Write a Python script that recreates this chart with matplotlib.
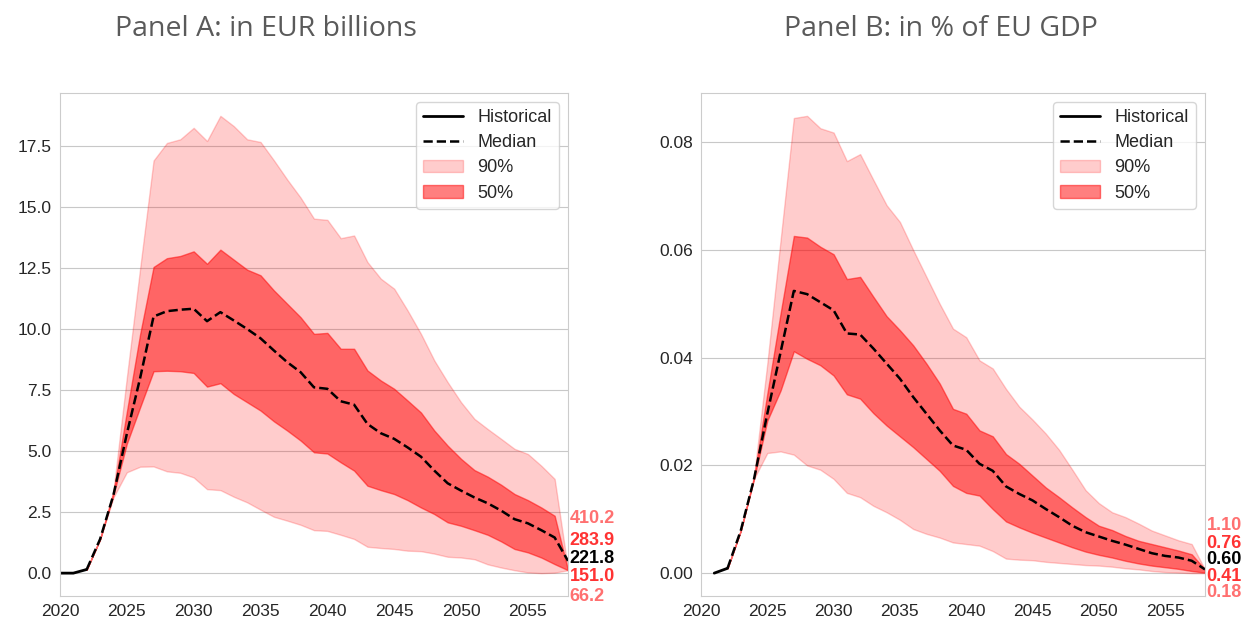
import numpy as np
import matplotlib
matplotlib.use("Agg")
import matplotlib.pyplot as plt
import seaborn as sns

# --- data ------------------------------------------------------------------
years_proj = list(range(2022, 2059))

hist_years_a = [2020, 2021, 2022]
hist_a = [0.0, 0.0, 0.15]

med_a = [0.15, 1.39, 3.2, 5.7, 8.0, 10.51, 10.73, 10.79, 10.83, 10.32, 10.69, 10.35,
         10.0, 9.62, 9.12, 8.64, 8.23, 7.61, 7.55, 7.04, 6.9, 6.11, 5.73, 5.5, 5.15,
         4.77, 4.2, 3.68, 3.38, 3.1, 2.86, 2.56, 2.21, 2.04, 1.76, 1.46, 0.5]
p95_a = [0.15, 1.39, 3.38, 8.0, 12.5, 16.9, 17.62, 17.77, 18.24, 17.70, 18.73, 18.31,
         17.77, 17.66, 16.91, 16.12, 15.38, 14.52, 14.47, 13.72, 13.83, 12.74, 12.06,
         11.65, 10.76, 9.8, 8.71, 7.82, 7.0, 6.32, 5.9, 5.5, 5.09, 4.88, 4.4, 3.86, 0.16]
p05_a = [0.15, 1.39, 3.1, 4.13, 4.36, 4.37, 4.17, 4.11, 3.92, 3.44, 3.40, 3.13, 2.90,
         2.60, 2.31, 2.15, 1.98, 1.76, 1.73, 1.57, 1.4, 1.08, 1.03, 0.99, 0.92, 0.9,
         0.8, 0.67, 0.64, 0.57, 0.36, 0.23, 0.12, 0.03, 0.0, 0.02, 0.12]
p75_a = [0.15, 1.39, 3.3, 6.6, 9.8, 12.54, 12.9, 12.99, 13.18, 12.67, 13.25, 12.84,
         12.43, 12.2, 11.58, 11.03, 10.48, 9.8, 9.84, 9.19, 9.19, 8.3, 7.89, 7.55,
         7.07, 6.58, 5.84, 5.22, 4.68, 4.22, 3.95, 3.62, 3.24, 2.99, 2.69, 2.35, 0.12]
p25_a = [0.15, 1.39, 3.2, 5.3, 6.8, 8.27, 8.29, 8.27, 8.2, 7.64, 7.78, 7.34, 7.0,
         6.66, 6.22, 5.84, 5.43, 4.95, 4.9, 4.54, 4.2, 3.58, 3.40, 3.24, 2.99, 2.69,
         2.42, 2.08, 1.94, 1.76, 1.57, 1.3, 0.99, 0.85, 0.64, 0.37, 0.12]
labels_a = ["410.2", "283.9", "221.8", "151.0", "66.2"]

hist_years_b = [2021, 2022]
hist_b = [0.0, 0.0009]

med_b = [0.0009, 0.0079, 0.0175, 0.0296, 0.041, 0.0524, 0.0518, 0.0503, 0.0488,
         0.0445, 0.0443, 0.0417, 0.0389, 0.0361, 0.0327, 0.0296, 0.0265, 0.0237,
         0.0229, 0.0203, 0.0190, 0.0161, 0.0147, 0.0135, 0.0119, 0.0104, 0.0088,
         0.0076, 0.0068, 0.006, 0.0053, 0.0045, 0.0037, 0.0032, 0.0029, 0.0023, 0.0007]
p95_b = [0.0009, 0.0079, 0.018, 0.0389, 0.0618, 0.0845, 0.0849, 0.0826, 0.0818,
         0.0765, 0.0778, 0.073, 0.0683, 0.0652, 0.060, 0.055, 0.050, 0.0454, 0.0438,
         0.0395, 0.038, 0.0342, 0.0309, 0.0285, 0.0259, 0.0229, 0.0192, 0.0154,
         0.0130, 0.0113, 0.0104, 0.0092, 0.0079, 0.0070, 0.0061, 0.0054, 0.0007]
p05_b = [0.0009, 0.0079, 0.0175, 0.0223, 0.0226, 0.022, 0.020, 0.0192, 0.0175,
         0.0149, 0.0141, 0.0125, 0.0113, 0.0099, 0.0082, 0.0073, 0.0066, 0.0057,
         0.0054, 0.0051, 0.0041, 0.0027, 0.0025, 0.0024, 0.0021, 0.0019, 0.0017,
         0.0015, 0.0014, 0.0012, 0.0009, 0.0007, 0.0004, 0.0002, 0.0001, 0.0, 0.0]
p75_b = [0.0009, 0.0079, 0.0178, 0.0333, 0.0482, 0.0626, 0.0623, 0.0606, 0.0592,
         0.0546, 0.055, 0.0513, 0.0477, 0.0451, 0.0423, 0.0389, 0.0352, 0.0305,
         0.0296, 0.0265, 0.0254, 0.0221, 0.0203, 0.0181, 0.0159, 0.0141, 0.0122,
         0.0104, 0.0088, 0.0080, 0.0069, 0.0060, 0.0054, 0.0048, 0.0042, 0.0035, 0.0007]
p25_b = [0.0009, 0.0079, 0.0175, 0.0283, 0.0339, 0.0412, 0.0398, 0.0386, 0.0367,
         0.0332, 0.0324, 0.0297, 0.0274, 0.0254, 0.0234, 0.0212, 0.019, 0.0162,
         0.0149, 0.0144, 0.0119, 0.0096, 0.0085, 0.0075, 0.0066, 0.0057, 0.0048,
         0.0040, 0.0034, 0.0029, 0.0023, 0.0018, 0.0014, 0.0011, 0.0008, 0.0004, 0.0001]
labels_b = ["1.10", "0.76", "0.60", "0.41", "0.18"]

titles = ["Panel A: in EUR billions", "Panel B: in % of EU GDP"]

# --- style -----------------------------------------------------------------
sns.set_style("whitegrid")
plt.rcParams["font.family"] = ["Liberation Sans", "DejaVu Sans"]

label_colors = ["#ff7070", "#ff3333", "black", "#ff3333", "#ff7070"]
# label heights in axes fraction (they sit in a fixed column right of the axes)
label_pos_a = [0.154, 0.110, 0.075, 0.038, -0.001]
label_pos_b = [0.140, 0.105, 0.073, 0.038, 0.007]


def panel(ax, hx, hy, med, p05, p25, p75, p95, labels, label_pos, yticks, fmt):
    ax.fill_between(years_proj, p05, p95, color="red", alpha=0.2, label="90%")
    ax.fill_between(years_proj, p25, p75, color="red", alpha=0.5, label="50%")
    ax.plot(hx, hy, color="black", lw=2, label="Historical")
    ax.plot(years_proj, med, color="black", lw=1.8, ls="--", label="Median")
    ax.set_xlim(2020, 2058)
    ax.set_xticks(range(2020, 2060, 5))
    ax.set_yticks(yticks)
    ax.set_yticklabels([fmt.format(v) for v in yticks])
    ax.grid(axis="x", visible=False)
    ax.grid(axis="y", color="#c8c8c8")
    ax.tick_params(labelsize=12.5, colors="#262626", length=0, pad=6)
    for s in ax.spines.values():
        s.set_color("#cccccc")
    h, l = ax.get_legend_handles_labels()
    order = [2, 3, 0, 1]
    ax.legend([h[i] for i in order], [l[i] for i in order], loc="upper right",
              fontsize=13, frameon=True, borderpad=0.4, labelspacing=0.45,
              handlelength=2.2)
    for txt, c, yp in zip(labels, label_colors, label_pos):
        ax.text(1.003, yp, txt, transform=ax.transAxes, color=c, fontsize=13,
                fontweight="bold", ha="left", va="center")


fig = plt.figure(figsize=(12.44, 6.22), dpi=100)
ax1 = fig.add_axes([0.0482, 0.0418, 0.4084, 0.8087])
ax2 = fig.add_axes([0.5635, 0.0418, 0.4051, 0.8087])

panel(ax1, hist_years_a, hist_a, med_a, p05_a, p25_a, p75_a, p95_a, labels_a,
      label_pos_a, [0, 2.5, 5, 7.5, 10, 12.5, 15, 17.5], "{:.1f}")
panel(ax2, hist_years_b, hist_b, med_b, p05_b, p25_b, p75_b, p95_b, labels_b,
      label_pos_b, [0, 0.02, 0.04, 0.06, 0.08], "{:.2f}")

fig.text(0.2138, 0.953, titles[0], ha="center", va="center", fontsize=20.5,
         color="#5a5a5a", family="Open Sans")
fig.text(0.756, 0.953, titles[1], ha="center", va="center", fontsize=20.5,
         color="#5a5a5a", family="Open Sans")

fig.savefig("out.png", dpi=100)
